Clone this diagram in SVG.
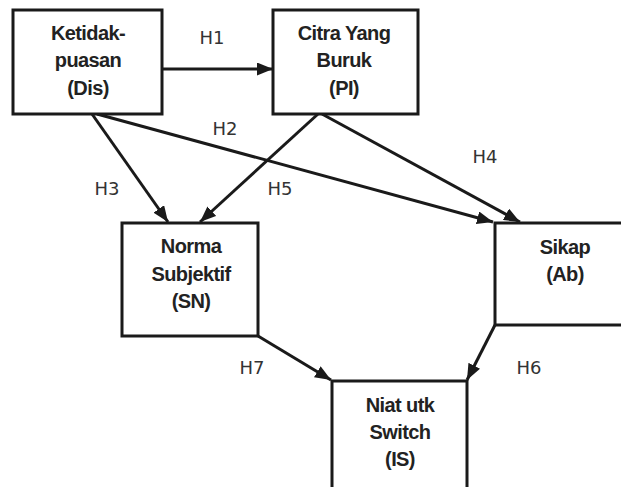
<svg xmlns="http://www.w3.org/2000/svg" width="621" height="487" viewBox="0 0 621 487">
<defs>
<marker id="arr" markerUnits="userSpaceOnUse" markerWidth="17" markerHeight="13" refX="16" refY="6.5" orient="auto">
<path d="M0,0 L16,6.5 L0,13 Z" fill="#1a1a1a"/>
</marker>
<style>
.box{fill:#fff;stroke:#1a1a1a;stroke-width:3}
.t{font-family:"Liberation Sans",Arial,sans-serif;font-size:20px;font-weight:bold;fill:#222;text-anchor:middle;letter-spacing:-0.6px}
.lbl{font-family:"DejaVu Sans","Open Sans",sans-serif;font-size:18px;fill:#333;text-anchor:middle}
.c{stroke:#1a1a1a;stroke-width:3;fill:none;marker-end:url(#arr)}
</style>
</defs>
<rect width="621" height="487" fill="#fff"/>
<g id="connectors">
<line class="c" x1="162" y1="69" x2="273" y2="69"/>
<line class="c" x1="92" y1="114" x2="168" y2="222"/>
<line class="c" x1="97" y1="114" x2="493" y2="222"/>
<line class="c" x1="318" y1="114" x2="200" y2="222"/>
<line class="c" x1="322" y1="114" x2="520" y2="222"/>
<line class="c" x1="258" y1="336" x2="331" y2="380"/>
<line class="c" x1="495" y1="325" x2="467" y2="380"/>
</g>
<g id="labels">
<text class="lbl" x="212" y="44">H1</text>
<text class="lbl" x="225" y="135">H2</text>
<text class="lbl" x="107" y="195">H3</text>
<text class="lbl" x="485" y="163">H4</text>
<text class="lbl" x="280" y="195">H5</text>
<text class="lbl" x="529" y="374">H6</text>
<text class="lbl" x="252" y="374">H7</text>
</g>
<g id="node-dis">
<rect class="box" x="13" y="10" width="149" height="104"/>
<text class="t" x="88" y="40">Ketidak-</text>
<text class="t" x="88" y="67">puasan</text>
<text class="t" x="88" y="95">(Dis)</text>
</g>
<g id="node-pi">
<rect class="box" x="273" y="10" width="145" height="104"/>
<text class="t" x="344" y="40">Citra Yang</text>
<text class="t" x="344" y="67">Buruk</text>
<text class="t" x="344" y="95">(PI)</text>
</g>
<g id="node-sn">
<rect class="box" x="122" y="223" width="136" height="113"/>
<text class="t" x="191" y="253">Norma</text>
<text class="t" x="191" y="281">Subjektif</text>
<text class="t" x="191" y="308">(SN)</text>
</g>
<g id="node-ab">
<rect class="box" x="495" y="223" width="140" height="102"/>
<text class="t" x="565" y="254">Sikap</text>
<text class="t" x="565" y="281">(Ab)</text>
</g>
<g id="node-is">
<rect class="box" x="332" y="381" width="135" height="120"/>
<text class="t" x="400" y="412">Niat utk</text>
<text class="t" x="400" y="439">Switch</text>
<text class="t" x="400" y="466">(IS)</text>
</g>
</svg>
